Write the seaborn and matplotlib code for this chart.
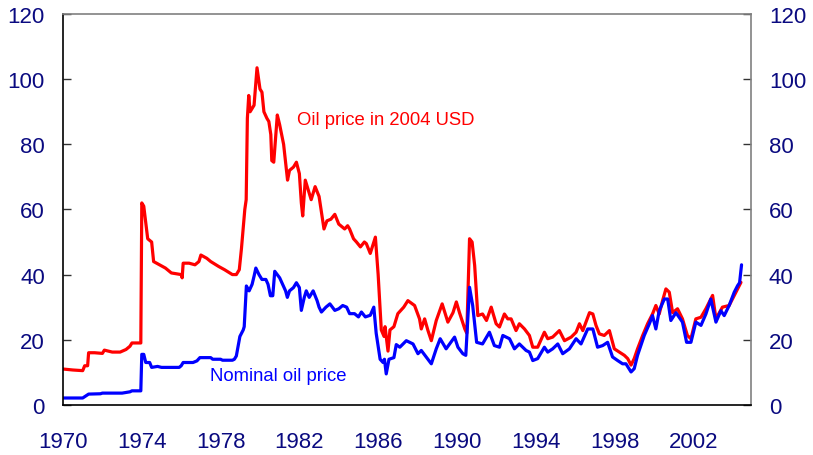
import matplotlib
matplotlib.use('Agg')
import matplotlib.pyplot as plt
import seaborn as sns
import pandas as pd

# oil price in 2004 USD (red)
real_years = [1970.0, 1970.5, 1971.0, 1971.1, 1971.25, 1971.3, 1971.6, 1972.0, 1972.1, 1972.5, 1972.9,
              1973.2, 1973.4, 1973.5, 1973.95, 1974.0, 1974.1, 1974.3, 1974.5, 1974.6, 1974.9, 1975.2,
              1975.5, 1976.0, 1976.05, 1976.1, 1976.4, 1976.7, 1976.9, 1977.0, 1977.3, 1977.5, 1977.9,
              1978.2, 1978.6, 1978.8, 1978.95, 1979.06, 1979.23, 1979.3, 1979.36, 1979.43, 1979.5,
              1979.7, 1979.85, 1980.0, 1980.1, 1980.2, 1980.35, 1980.45, 1980.55, 1980.6, 1980.7,
              1980.88, 1981.0, 1981.2, 1981.4, 1981.5, 1981.7, 1981.85, 1982.0, 1982.1, 1982.17,
              1982.3, 1982.45, 1982.6, 1982.8, 1983.0, 1983.2, 1983.25, 1983.4, 1983.6, 1983.8,
              1984.0, 1984.3, 1984.45, 1984.55, 1984.75, 1984.9, 1985.1, 1985.3, 1985.4, 1985.6,
              1985.86, 1986.0, 1986.16, 1986.3, 1986.35, 1986.5, 1986.6, 1986.8, 1987.0, 1987.3,
              1987.51, 1987.85, 1988.1, 1988.19, 1988.36, 1988.53, 1988.7, 1988.95, 1989.25, 1989.54,
              1989.8, 1989.97, 1990.13, 1990.4, 1990.5, 1990.64, 1990.77, 1990.9, 1991.06, 1991.3,
              1991.5, 1991.74, 1991.99, 1992.16, 1992.41, 1992.58, 1992.75, 1993.0, 1993.17, 1993.43,
              1993.68, 1993.85, 1994.1, 1994.44, 1994.61, 1994.86, 1995.2, 1995.46, 1995.8, 1996.05,
              1996.22, 1996.39, 1996.73, 1996.9, 1997.06, 1997.23, 1997.48, 1997.74, 1997.99, 1998.25,
              1998.5, 1998.67, 1998.84, 1999.0, 1999.17, 1999.43, 1999.68, 1999.93, 2000.1, 2000.27,
              2000.44, 2000.61, 2000.78, 2000.95, 2001.2, 2001.45, 2001.7, 2001.88, 2002.13, 2002.39,
              2002.64, 2002.98, 2003.15, 2003.48, 2003.82, 2004.08, 2004.25, 2004.42]
real_price = [11.0, 10.7, 10.5, 12.0, 12.0, 16.0, 16.0, 15.8, 16.8, 16.2, 16.2,
              17.0, 18.0, 19.0, 19.0, 62.0, 61.0, 51.0, 50.0, 44.0, 43.0, 42.0,
              40.5, 40.0, 39.0, 43.5, 43.5, 43.0, 44.0, 46.0, 45.0, 44.0, 42.5,
              41.5, 40.0, 40.0, 41.5, 48.0, 60.0, 63.0, 88.0, 95.0, 90.0,
              92.0, 103.5, 97.0, 96.0, 90.0, 88.0, 87.0, 83.0, 75.0, 74.5,
              89.0, 86.0, 80.0, 69.0, 72.0, 73.0, 74.5, 71.0, 62.0, 58.0,
              69.0, 66.0, 63.0, 67.0, 64.0, 56.0, 54.0, 56.5, 57.0, 58.5,
              55.5, 54.0, 55.0, 54.0, 51.0, 50.0, 48.5, 50.0, 49.5, 46.5,
              51.5, 40.0, 23.0, 21.0, 24.0, 16.5, 23.0, 24.0, 28.0, 30.0,
              32.0, 30.5, 26.4, 23.3, 26.4, 22.8, 19.7, 25.9, 31.0, 25.4,
              28.3, 31.6, 28.3, 23.3, 22.0, 51.0, 50.0, 42.8, 27.4, 27.9,
              25.9, 30.0, 24.9, 23.9, 27.9, 26.4, 26.4, 22.8, 24.9, 23.3,
              21.3, 17.7, 17.7, 22.3, 20.3, 20.8, 22.8, 19.7, 20.8, 22.3,
              24.9, 22.8, 28.3, 27.9, 24.4, 21.8, 21.3, 22.8, 17.2, 16.2,
              15.2, 14.2, 12.2, 14.2, 17.2, 21.3, 24.9, 27.9, 30.5, 27.9,
              32.0, 35.6, 34.6, 28.3, 29.5, 26.4, 21.3, 20.3, 26.4, 26.9,
              29.5, 33.6, 26.4, 30.0, 30.5, 33.6, 35.6, 37.6]

# nominal oil price (blue)
nom_years = [1970.0, 1970.5, 1971.0, 1971.1, 1971.3, 1971.9, 1972.0, 1972.9, 1973.0, 1973.4, 1973.5,
             1973.95, 1974.0, 1974.1, 1974.2, 1974.4, 1974.5, 1974.8, 1975.0, 1975.9, 1976.0, 1976.1,
             1976.6, 1976.8, 1976.95, 1977.5, 1977.6, 1978.0, 1978.1, 1978.6, 1978.7, 1978.8, 1978.98,
             1979.15, 1979.2, 1979.31, 1979.45, 1979.6, 1979.7, 1979.79, 1979.95, 1980.1, 1980.3,
             1980.41, 1980.53, 1980.65, 1980.75, 1981.0, 1981.15, 1981.3, 1981.39, 1981.5, 1981.7,
             1981.85, 1982.0, 1982.1, 1982.25, 1982.35, 1982.5, 1982.7, 1982.9, 1983.0, 1983.12,
             1983.35, 1983.55, 1983.8, 1984.0, 1984.2, 1984.4, 1984.55, 1984.8, 1985.0, 1985.15,
             1985.35, 1985.6, 1985.78, 1985.9, 1986.1, 1986.25, 1986.32, 1986.41, 1986.55, 1986.8,
             1986.92, 1987.1, 1987.43, 1987.77, 1988.02, 1988.19, 1988.44, 1988.7, 1988.95, 1989.15,
             1989.45, 1989.88, 1990.05, 1990.3, 1990.45, 1990.64, 1990.8, 1991.0, 1991.3, 1991.65,
             1991.9, 1992.16, 1992.33, 1992.67, 1992.92, 1993.17, 1993.51, 1993.68, 1993.85, 1994.1,
             1994.44, 1994.61, 1994.86, 1995.12, 1995.37, 1995.71, 1996.05, 1996.3, 1996.64, 1996.9,
             1997.14, 1997.4, 1997.65, 1997.9, 1998.16, 1998.41, 1998.58, 1998.84, 1999.0, 1999.17,
             1999.51, 1999.77, 1999.93, 2000.1, 2000.27, 2000.53, 2000.7, 2000.86, 2001.12, 2001.45,
             2001.66, 2001.88, 2002.13, 2002.39, 2002.64, 2002.89, 2003.15, 2003.4, 2003.57, 2003.82,
             2004.08, 2004.25, 2004.35, 2004.45]
nom_price = [2.1, 2.1, 2.1, 2.5, 3.3, 3.4, 3.6, 3.6, 3.6, 4.0, 4.3,
             4.3, 15.5, 15.5, 13.0, 13.0, 11.5, 11.8, 11.5, 11.5, 12.0, 13.0,
             13.0, 13.5, 14.5, 14.5, 14.0, 14.0, 13.7, 13.7, 14.0, 15.0, 21.0,
             23.0, 24.0, 36.5, 35.0, 37.0, 39.5, 42.0, 40.0, 38.5, 38.5,
             37.0, 33.5, 33.5, 41.0, 39.0, 37.0, 35.0, 33.0, 35.0, 36.0,
             37.5, 36.0, 29.0, 33.0, 35.0, 33.0, 35.0, 32.0, 30.0, 28.5,
             30.0, 31.0, 29.0, 29.5, 30.5, 30.0, 28.0, 28.0, 27.0, 28.5,
             27.0, 27.5, 30.0, 22.0, 14.0, 13.0, 14.0, 9.5, 14.0, 14.5,
             18.5, 17.7, 19.7, 18.7, 15.7, 16.7, 14.7, 12.6, 17.2, 20.3,
             17.2, 20.8, 17.7, 15.7, 15.2, 36.1, 30.5, 19.2, 18.7, 22.3,
             18.2, 17.7, 21.3, 20.3, 17.2, 18.7, 16.7, 16.2, 13.6, 14.2,
             17.7, 16.2, 17.2, 18.7, 15.7, 17.2, 20.3, 18.7, 23.3, 23.3,
             17.7, 18.2, 19.2, 14.7, 13.6, 12.6, 12.6, 10.1, 11.1, 15.2,
             21.3, 24.9, 27.4, 23.3, 28.9, 32.5, 32.5, 25.9, 28.3, 25.4,
             19.2, 19.2, 25.4, 24.4, 27.9, 32.5, 25.4, 28.9, 27.4, 30.5,
             34.6, 36.6, 37.5, 43.0]

x_ticks = [1970, 1974, 1978, 1982, 1986, 1990, 1994, 1998, 2002]
y_ticks = [0, 20, 40, 60, 80, 100, 120]

df = pd.concat([
    pd.DataFrame({'year': real_years, 'price': real_price, 'series': 'real'}),
    pd.DataFrame({'year': nom_years, 'price': nom_price, 'series': 'nominal'}),
])

sns.set_style('white')
plt.rcParams['font.family'] = ['Liberation Sans', 'DejaVu Sans']
navy = '#0a0a80'

fig = plt.figure(figsize=(8.13, 4.56), dpi=100)
ax = fig.add_axes([0.0775, 0.11, 0.846, 0.857])
sns.lineplot(data=df, x='year', y='price', hue='series', sort=False,
             palette={'real': '#ff0000', 'nominal': '#0000ff'},
             linewidth=2.3, legend=False, ax=ax)

ax.set_xlim(1970, 2004.92)
ax.set_ylim(0, 120)
ax.set_xticks(x_ticks)
ax.set_yticks(y_ticks)
ax.set_xlabel('')
ax.set_ylabel('')
ax.tick_params(axis='both', direction='in', length=6, width=1, colors='#333333',
               labelcolor=navy, labelsize=16)
ax.tick_params(axis='x', pad=19)
ax.tick_params(axis='y', right=True, labelright=True, left=True, pad=13)
for side in ['top', 'right']:
    ax.spines[side].set_color('#808080')
    ax.spines[side].set_linewidth(1.2)
for side in ['bottom', 'left']:
    ax.spines[side].set_color('#000000')
    ax.spines[side].set_linewidth(1.2)

ax.text(1981.87, 87.5, 'Oil price in 2004 USD', color='#ff0000', fontsize=13.3, va='center')
ax.text(1977.45, 8.9, 'Nominal oil price', color='#0000ff', fontsize=13.3, va='center')

fig.savefig('out.png', dpi=100)
